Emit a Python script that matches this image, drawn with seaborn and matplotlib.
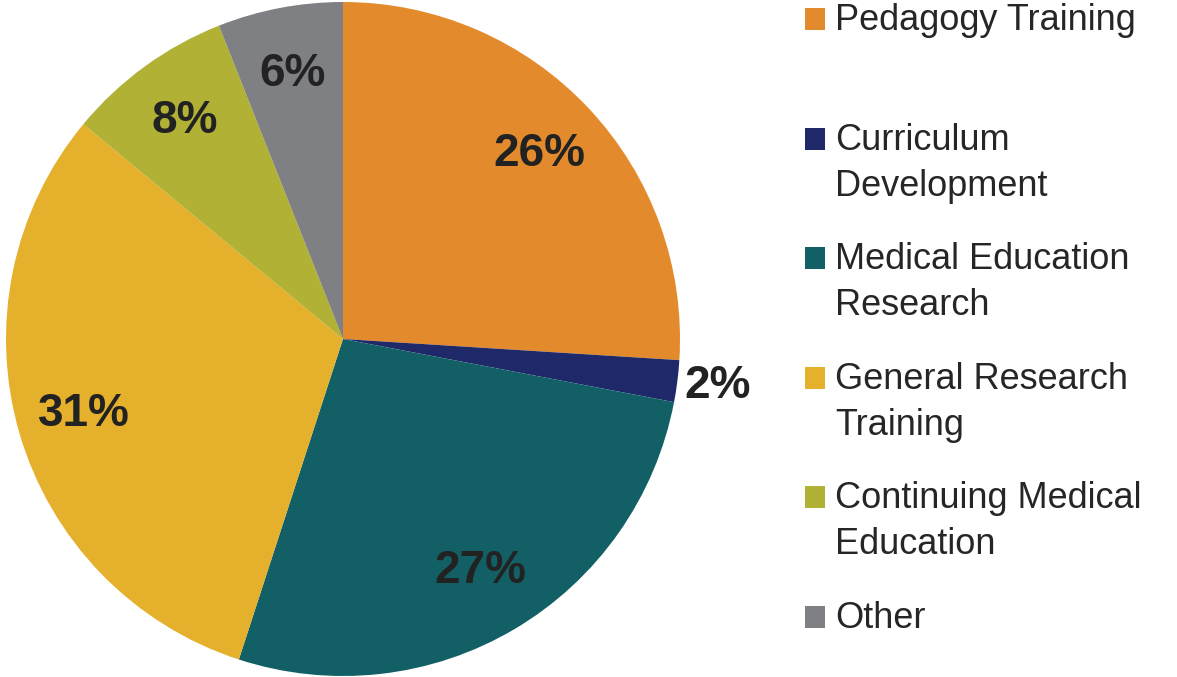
import numpy as np
import matplotlib
matplotlib.use("Agg")
import matplotlib.pyplot as plt
from matplotlib.patches import Rectangle
import seaborn as sns

categories = ["Pedagogy Training", "Curriculum Development", "Medical Education Research",
              "General Research Training", "Continuing Medical Education", "Other"]
legend_labels = ["Pedagogy Training", "Curriculum\nDevelopment", "Medical Education\nResearch",
                 "General Research\nTraining", "Continuing Medical\nEducation", "Other"]
values = [26, 2, 27, 31, 8, 6]
colors = ["#E38B2C", "#1F2868", "#126066", "#E5B02B", "#B0B135", "#7E8084"]

sns.set_theme(style="white")
plt.rcParams["font.family"] = ["Liberation Sans", "DejaVu Sans"]

W, H = 1177, 677
fig = plt.figure(figsize=(W / 100, H / 100), dpi=100)
fig.patch.set_facecolor("white")

cx, cy, R = 343, 339, 337
ax = fig.add_axes([(cx - R) / W, (H - cy - R) / H, 2 * R / W, 2 * R / H])

wedges, texts, autotexts = ax.pie(
    values, colors=sns.color_palette(colors), startangle=90, counterclock=False,
    radius=1, autopct=lambda p: f"{p:.0f}%", pctdistance=0.8,
    wedgeprops=dict(edgecolor="none", linewidth=0),
    textprops=dict(fontsize=33, fontweight="bold", color="#222222"))
for w, t in zip(wedges, autotexts):
    if (w.theta2 - w.theta1) < 18:
        ang = np.deg2rad((w.theta1 + w.theta2) / 2)
        t.set_position((1.12 * np.cos(ang), 1.12 * np.sin(ang)))
ax.set_xlim(-1, 1)
ax.set_ylim(-1, 1)
ax.set_aspect("equal")
ax.axis("off")

# legend (drawn manually to match the reference layout)
base0, step, line_h = 30, 119.6, 46
for i, (lab, col) in enumerate(zip(legend_labels, colors)):
    b = base0 + step * i
    fig.patches.append(Rectangle((805 / W, 1 - b / H), 20 / W, 22 / H,
                                 transform=fig.transFigure, facecolor=col,
                                 edgecolor="none"))
    for j, line in enumerate(lab.split("\n")):
        fig.text(835 / W, 1 - (b + j * line_h) / H, line, fontsize=26,
                 color="#262626", va="baseline", ha="left",
                 transform=fig.transFigure)

fig.savefig("out.png", dpi=100, facecolor="white")
